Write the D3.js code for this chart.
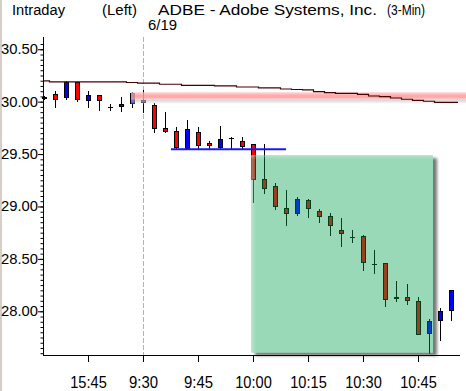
<!DOCTYPE html>
<html><head><meta charset="utf-8">
<script src="https://cdn.jsdelivr.net/npm/d3@7"></script>
<style>html,body{margin:0;padding:0;background:#fff;overflow:hidden}</style>
</head><body>
<svg id="c" width="466" height="391"></svg>
<script>
// ---- data ----
const times = ["15:33","15:36","15:39","15:42","15:45","15:48","15:51","15:54","15:57",
  "9:30","9:33","9:36","9:39","9:42","9:45","9:48","9:51","9:54","9:57",
  "10:00","10:03","10:06","10:09","10:12","10:15","10:18","10:21","10:24","10:27",
  "10:30","10:33","10:36","10:39","10:42","10:45","10:48","10:51","10:54"];
const opens  = [30.04,30.07,30.04,30.19,30.02,30.06,29.95,29.955,29.985,
  30.015,29.97,29.75,29.72,29.56,29.71,29.61,29.57,29.655,29.625,
  29.595,29.26,29.20,28.99,28.94,29.06,28.96,28.91,28.775,28.71,
  28.72,28.45,28.46,28.13,28.14,28.095,27.79,27.915,28.01];
const highs  = [30.05,30.10,30.20,30.19,30.10,30.06,29.975,30.04,30.095,
  30.11,29.985,29.905,29.76,29.825,29.755,29.625,29.77,29.665,29.665,
  29.595,29.60,29.22,29.16,29.09,29.07,28.98,28.935,28.89,28.775,
  28.73,28.585,28.46,28.29,28.26,28.135,27.93,28.03,28.20];
const lows   = [30.03,29.95,30.03,30.01,29.95,29.92,29.92,29.91,29.95,
  29.905,29.71,29.71,29.555,29.555,29.555,29.555,29.555,29.555,29.555,
  29.045,29.125,28.98,28.82,28.92,28.90,28.855,28.73,28.62,28.665,
  28.39,28.37,28.05,28.10,28.07,27.78,27.60,27.73,27.92];
const closes = [30.04,30.03,30.19,30.03,30.06,30.02,29.95,29.98,30.085,
  29.995,29.75,29.72,29.57,29.74,29.59,29.59,29.64,29.655,29.58,
  29.26,29.18,29.00,28.94,29.07,28.99,28.91,28.82,28.745,28.71,
  28.47,28.45,28.115,28.13,28.105,27.78,27.905,28.00,28.20];
const movingAvg = [30.198,30.188,30.188,30.188,30.188,30.188,30.188,30.188,30.183,
  30.176,30.176,30.166,30.166,30.156,30.156,30.156,30.150,30.150,30.140,
  30.140,30.131,30.131,30.121,30.116,30.112,30.095,30.086,30.080,30.080,
  30.070,30.054,30.048,30.035,30.023,30.013,30.004,29.994,29.994];
const priceTicks = [28.00,28.50,29.00,29.50,30.00,30.50];
const timeTicks = ["15:45","9:30","9:45","10:00","10:15","10:30","10:45"];
const sessionBreak = "9:30";
const resistanceLevel = 30.055, resistanceFrom = "15:57";
const supportLevel = 29.546, supportFrom = "9:39", supportTo = "10:09";
const zoneFrom = "10:00", zoneTo = "10:48", zoneTop = 29.49, zoneBottom = 27.605;

// ---- chart ----
const svg = d3.select("#c");
const x = d3.scalePoint().domain(times).range([44, 451]);
const y = d3.scaleLinear().domain([27.583, 30.617]).range([355, 37]);
const font = "'Liberation Sans', Arial, sans-serif";

const defs = svg.append("defs");
const blur = (id, s) => defs.append("filter").attr("id", id)
  .attr("x", "-20%").attr("y", "-300%").attr("width", "140%").attr("height", "700%")
  .append("feGaussianBlur").attr("stdDeviation", s);
blur("b08", 0.8); blur("b10", 1.0); blur("b15", 1.5);

svg.append("rect").attr("x", 0).attr("y", 0).attr("width", 466).attr("height", 391).attr("fill", "#fff");
svg.append("rect").attr("x", 0).attr("y", 0).attr("width", 2).attr("height", 391).attr("fill", "#d4d0c8");

// title
const titles = [
  {t: "Intraday", x: 12, w: 53, y: 14.5},
  {t: "(Left)", x: 102, w: 35, y: 14.5},
  {t: "ADBE - Adobe Systems, Inc.", x: 158, w: 219, y: 14.5},
  {t: "(3-Min)", x: 387, w: 38, y: 14.5},
  {t: "6/19", x: 148, w: 29, y: 30}
];
svg.selectAll("text.title").data(titles).join("text").attr("class", "title")
  .attr("x", d => d.x).attr("y", d => d.y).attr("textLength", d => d.w)
  .attr("lengthAdjust", "spacingAndGlyphs")
  .attr("font-family", font).attr("font-size", 14).attr("fill", "#000").text(d => d.t);

// session break dashed line
svg.append("line").attr("x1", x(sessionBreak) + 0.5).attr("x2", x(sessionBreak) + 0.5)
  .attr("y1", 37).attr("y2", 355).attr("stroke", "#b4b4b4").attr("stroke-dasharray", "5,2");

// candles
const data = times.map((t, i) => ({t, o: opens[i], h: highs[i], l: lows[i], c: closes[i]}));
const cg = svg.append("g").attr("shape-rendering", "crispEdges");
cg.selectAll("line.wick").data(data).join("line").attr("class", "wick")
  .attr("x1", d => x(d.t) + 0.5).attr("x2", d => x(d.t) + 0.5)
  .attr("y1", d => y(d.h)).attr("y2", d => y(d.l) + 1).attr("stroke", "#000");
cg.selectAll("rect.body").data(data.filter(d => d.o !== d.c)).join("rect").attr("class", "body")
  .attr("x", d => x(d.t) - 1.5).attr("width", 4)
  .attr("y", d => y(Math.max(d.o, d.c)) + 0.5)
  .attr("height", d => Math.max(1, y(Math.min(d.o, d.c)) - y(Math.max(d.o, d.c))))
  .attr("fill", d => d.c > d.o ? "#0000ff" : "#ff0000").attr("stroke", "#000");
cg.selectAll("line.doji").data(data.filter(d => d.o === d.c)).join("line").attr("class", "doji")
  .attr("x1", d => x(d.t) - 2).attr("x2", d => x(d.t) + 3)
  .attr("y1", d => y(d.o) + 0.5).attr("y2", d => y(d.o) + 0.5)
  .attr("stroke", "#000").attr("stroke-width", 1.5);

// resistance glow band (gradient: pink glow with grey shadow below)
const rx1 = x(resistanceFrom) - 1, rx2 = 470, ry = y(resistanceLevel);
const rg = defs.append("linearGradient").attr("id", "rg").attr("x1", 0).attr("x2", 0).attr("y1", 0).attr("y2", 1);
[[0, "#ffd0d0", 0.5], [0.14, "#ffb0b0", 0.8], [0.3, "#ff9898", 0.85], [0.45, "#ffa0a0", 0.85],
 [0.55, "#ffc0c0", 0.75], [0.65, "#c0c0c0", 0.6], [0.8, "#d8d8d8", 0.45], [1, "#ffffff", 0]]
  .forEach(s => rg.append("stop").attr("offset", s[0]).attr("stop-color", s[1]).attr("stop-opacity", s[2]));
svg.append("rect").attr("x", rx1).attr("y", ry - 4).attr("width", rx2 - rx1).attr("height", 13)
  .attr("fill", "url(#rg)");

// moving average step line
const maPts = times.map((t, i) => [x(t), y(movingAvg[i])]);
maPts.unshift([43, y(movingAvg[0])]);
maPts.push([458, y(movingAvg[movingAvg.length - 1])]);
svg.append("path").attr("d", d3.line().curve(d3.curveStep)(maPts))
  .attr("fill", "none").attr("stroke", "#480000").attr("stroke-width", 1.2);

// support glow line
const sx1 = x(supportFrom) - 5, sx2 = x(supportTo), sy = y(supportLevel);
svg.append("line").attr("x1", sx1).attr("x2", sx2).attr("y1", sy).attr("y2", sy)
  .attr("stroke", "#5a5aff").attr("stroke-width", 5).attr("opacity", 0.6).attr("filter", "url(#b08)");
svg.append("line").attr("x1", sx1).attr("x2", sx2).attr("y1", sy).attr("y2", sy)
  .attr("stroke", "#1818ff").attr("stroke-width", 2);

// green zone
const zx = x(zoneFrom) - 2, zx2 = x(zoneTo) + 4, zy = y(zoneTop), zy2 = y(zoneBottom);
const mask = defs.append("mask").attr("id", "zm");
mask.append("rect").attr("x", 0).attr("y", 0).attr("width", 466).attr("height", 391).attr("fill", "#fff");
mask.append("rect").attr("x", zx).attr("y", zy).attr("width", zx2 - zx).attr("height", zy2 - zy).attr("fill", "#000");
svg.append("g").attr("mask", "url(#zm)").append("rect")
  .attr("x", zx + 4).attr("y", zy + 3).attr("width", zx2 - zx).attr("height", zy2 - zy)
  .attr("fill", "#606060").attr("opacity", 0.85).attr("filter", "url(#b15)");
svg.append("rect").attr("x", zx).attr("y", zy).attr("width", zx2 - zx).attr("height", zy2 - zy)
  .attr("fill", "rgb(0,161,77)").attr("opacity", 0.4);
const lg = defs.append("linearGradient").attr("id", "lgL").attr("x1", 0).attr("x2", 1).attr("y1", 0).attr("y2", 0);
lg.append("stop").attr("offset", 0).attr("stop-color", "#fff").attr("stop-opacity", 0.35);
lg.append("stop").attr("offset", 1).attr("stop-color", "#fff").attr("stop-opacity", 0);
const tg = defs.append("linearGradient").attr("id", "lgT").attr("x1", 0).attr("x2", 0).attr("y1", 0).attr("y2", 1);
tg.append("stop").attr("offset", 0).attr("stop-color", "#fff").attr("stop-opacity", 0.3);
tg.append("stop").attr("offset", 1).attr("stop-color", "#fff").attr("stop-opacity", 0);
svg.append("rect").attr("x", zx).attr("y", zy).attr("width", 5).attr("height", zy2 - zy).attr("fill", "url(#lgL)");
svg.append("rect").attr("x", zx).attr("y", zy).attr("width", zx2 - zx).attr("height", 4).attr("fill", "url(#lgT)");

// axes
const minor = d3.range(552, 612).map(v => v / 20);
const ga = svg.append("g").attr("transform", "translate(43,0)");
ga.call(d3.axisLeft(y).tickValues(minor).tickSize(2.5).tickFormat(""));
ga.select(".domain").remove();
const gm = svg.append("g").attr("transform", "translate(43,0)");
gm.call(d3.axisLeft(y).tickValues(priceTicks).tickSize(5).tickPadding(0).tickFormat(d3.format(".2f")));
gm.select(".domain").remove();
gm.selectAll("text").attr("font-family", font).attr("font-size", 14).attr("fill", "#000")
  .attr("textLength", 37).attr("lengthAdjust", "spacingAndGlyphs");
svg.selectAll("g.tick line").attr("stroke", "#000");

const gx = svg.append("g").attr("transform", "translate(0,355)");
gx.call(d3.axisBottom(x).tickValues(timeTicks).tickSize(7));
gx.select(".domain").remove();
gx.selectAll("line").attr("stroke", "#000");
gx.selectAll("text").attr("y", 33).attr("dy", null)
  .attr("font-family", font).attr("font-size", 17).attr("fill", "#000")
  .attr("textLength", d => d.length === 4 ? 29 : 36.5).attr("lengthAdjust", "spacingAndGlyphs");

svg.append("line").attr("x1", 43.5).attr("x2", 43.5).attr("y1", 37).attr("y2", 356).attr("stroke", "#000");
svg.append("line").attr("x1", 43).attr("x2", 460).attr("y1", 355.5).attr("y2", 355.5).attr("stroke", "#000");
</script>
</body></html>
